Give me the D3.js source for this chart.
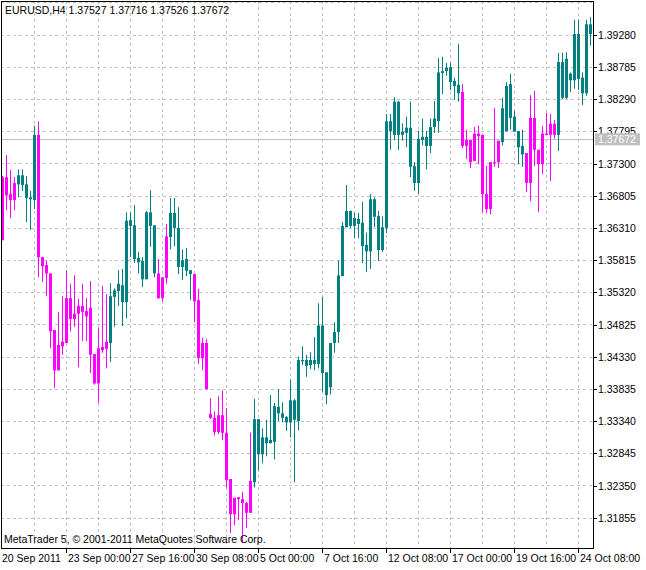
<!DOCTYPE html>
<html>
<head>
<meta charset="utf-8">
<script src="https://cdn.jsdelivr.net/npm/d3@7"></script>
<style>
  body { margin: 0; background: #fff; }
  text { font-family: "Liberation Sans", "DejaVu Sans", sans-serif; font-size: 10.5px; }
</style>
</head>
<body>
<svg id="chart" width="646" height="570"></svg>
<script>
// H4 candles
const opens = [1.3709,1.3709,1.3683,1.3700,1.3698,1.3697,1.3677,1.3675,1.3674,1.3774,
  1.3586,1.3574,1.3561,1.3474,1.3451,1.3456,1.3523,1.3523,1.3499,1.3511,
  1.3511,1.3503,1.3508,1.3437,1.3446,1.3448,1.3456,1.3454,1.3525,1.3534,
  1.3517,1.3517,1.3634,1.3583,1.3578,1.3552,1.3552,1.3634,1.3561,1.3561,
  1.3555,1.3618,1.3617,1.3631,1.3571,1.3571,1.3565,1.3560,1.3560,1.3520,
  1.3454,1.3454,1.3345,1.3339,1.3343,1.3343,1.3316,1.3245,1.3216,1.3217,
  1.3214,1.3208,1.3242,1.3240,1.3283,1.3283,1.3300,1.3300,1.3302,1.3346,
  1.3339,1.3332,1.3332,1.3336,1.3334,1.3426,1.3419,1.3420,1.3422,1.3422,
  1.3408,1.3374,1.3386,1.3454,1.3471,1.3557,1.3632,1.3634,1.3634,1.3637,
  1.3603,1.3595,1.3595,1.3648,1.3597,1.3597,1.3631,1.3780,1.3774,1.3774,
  1.3774,1.3777,1.3725,1.3700,1.3700,1.3766,1.3757,1.3757,1.3786,1.3795,
  1.3869,1.3872,1.3855,1.3849,1.3838,1.3840,1.3766,1.3766,1.3776,1.3776,
  1.3774,1.3683,1.3732,1.3732,1.3765,1.3763,1.3780,1.3800,1.3779,1.3755,
  1.3744,1.3746,1.3800,1.3800,1.3751,1.3776,1.3776,1.3791,1.3791,1.3774,
  1.3831,1.3831,1.3858,1.3858,1.3860,1.3838,1.3838,1.3929];
const highs = [1.3711,1.3743,1.3720,1.3709,1.3721,1.3721,1.3711,1.3688,1.3788,1.3795,
  1.3586,1.3581,1.3561,1.3474,1.3502,1.3526,1.3566,1.3545,1.3558,1.3522,
  1.3545,1.3523,1.3549,1.3437,1.3477,1.3542,1.3529,1.3546,1.3538,1.3566,
  1.3568,1.3655,1.3655,1.3666,1.3594,1.3586,1.3657,1.3689,1.3635,1.3583,
  1.3555,1.3637,1.3677,1.3677,1.3663,1.3598,1.3600,1.3566,1.3560,1.3537,
  1.3462,1.3460,1.3369,1.3349,1.3372,1.3381,1.3354,1.3245,1.3216,1.3217,
  1.3225,1.3210,1.3316,1.3368,1.3337,1.3323,1.3336,1.3374,1.3362,1.3383,
  1.3363,1.3342,1.3398,1.3368,1.3433,1.3449,1.3436,1.3440,1.3463,1.3515,
  1.3525,1.3409,1.3454,1.3486,1.3581,1.3640,1.3697,1.3658,1.3654,1.3654,
  1.3671,1.3624,1.3683,1.3678,1.3657,1.3649,1.3806,1.3806,1.3832,1.3826,
  1.3792,1.3802,1.3825,1.3732,1.3780,1.3799,1.3780,1.3799,1.3826,1.3892,
  1.3894,1.3885,1.3885,1.3862,1.3914,1.3852,1.3782,1.3766,1.3786,1.3788,
  1.3774,1.3726,1.3732,1.3815,1.3765,1.3831,1.3855,1.3868,1.3811,1.3780,
  1.3782,1.3746,1.3835,1.3842,1.3751,1.3788,1.3808,1.3806,1.3797,1.3900,
  1.3900,1.3901,1.3870,1.3951,1.3951,1.3870,1.3951,1.3955];
const lows = [1.3612,1.3658,1.3646,1.3658,1.3678,1.3688,1.3640,1.3628,1.3660,1.3555,
  1.3548,1.3526,1.3446,1.3385,1.3412,1.3436,1.3454,1.3472,1.3479,1.3417,
  1.3457,1.3457,1.3408,1.3390,1.3362,1.3439,1.3415,1.3425,1.3479,1.3511,
  1.3480,1.3492,1.3586,1.3577,1.3561,1.3540,1.3552,1.3602,1.3555,1.3522,
  1.3518,1.3545,1.3598,1.3603,1.3560,1.3551,1.3557,1.3520,1.3486,1.3422,
  1.3412,1.3383,1.3337,1.3312,1.3314,1.3305,1.3232,1.3162,1.3174,1.3182,
  1.3147,1.3170,1.3193,1.3232,1.3258,1.3269,1.3280,1.3300,1.3275,1.3334,
  1.3332,1.3319,1.3309,1.3240,1.3320,1.3420,1.3402,1.3414,1.3412,1.3415,
  1.3379,1.3360,1.3375,1.3439,1.3454,1.3557,1.3632,1.3631,1.3615,1.3615,
  1.3577,1.3563,1.3568,1.3632,1.3580,1.3594,1.3623,1.3751,1.3766,1.3751,
  1.3765,1.3755,1.3709,1.3688,1.3683,1.3758,1.3721,1.3746,1.3777,1.3777,
  1.3837,1.3865,1.3843,1.3828,1.3825,1.3754,1.3737,1.3723,1.3734,1.3729,
  1.3655,1.3654,1.3652,1.3725,1.3723,1.3758,1.3779,1.3782,1.3779,1.3729,
  1.3725,1.3686,1.3672,1.3726,1.3655,1.3714,1.3774,1.3703,1.3768,1.3749,
  1.3829,1.3829,1.3840,1.3845,1.3843,1.3820,1.3834,1.3911];
const closes = [1.3612,1.3681,1.3674,1.3674,1.3712,1.3712,1.3698,1.3678,1.3774,1.3586,
  1.3572,1.3561,1.3472,1.3412,1.3412,1.3449,1.3454,1.3491,1.3491,1.3499,
  1.3502,1.3495,1.3436,1.3392,1.3392,1.3443,1.3445,1.3526,1.3535,1.3545,
  1.3543,1.3642,1.3643,1.3635,1.3585,1.3580,1.3655,1.3655,1.3635,1.3523,
  1.3523,1.3554,1.3654,1.3654,1.3631,1.3581,1.3583,1.3566,1.3518,1.3431,
  1.3431,1.3383,1.3339,1.3317,1.3317,1.3316,1.3243,1.3191,1.3191,1.3214,
  1.3208,1.3193,1.3193,1.3337,1.3337,1.3309,1.3309,1.3305,1.3357,1.3356,
  1.3346,1.3340,1.3366,1.3366,1.3428,1.3428,1.3428,1.3428,1.3428,1.3481,
  1.3481,1.3409,1.3454,1.3471,1.3558,1.3634,1.3657,1.3657,1.3646,1.3645,
  1.3639,1.3605,1.3675,1.3675,1.3649,1.3632,1.3795,1.3795,1.3825,1.3825,
  1.3779,1.3785,1.3785,1.3726,1.3768,1.3771,1.3771,1.3786,1.3799,1.3870,
  1.3872,1.3877,1.3878,1.3857,1.3851,1.3757,1.3757,1.3732,1.3734,1.3772,
  1.3683,1.3660,1.3660,1.3731,1.3732,1.3815,1.3849,1.3852,1.3802,1.3780,
  1.3757,1.3700,1.3700,1.3751,1.3729,1.3729,1.3774,1.3774,1.3774,1.3886,
  1.3886,1.3891,1.3868,1.3929,1.3929,1.3862,1.3944,1.3944];

const priceTicks = [1.31855,1.32350,1.32845,1.33340,1.33835,1.34330,1.34825,1.35320,
  1.35815,1.36310,1.36805,1.37300,1.37795,1.38290,1.38785,1.39280];
const dateLabels = ["20 Sep 2011","23 Sep 00:00","27 Sep 16:00","30 Sep 08:00","5 Oct 00:00",
  "7 Oct 16:00","12 Oct 08:00","17 Oct 00:00","19 Oct 16:00","24 Oct 08:00"];
const bidPrice = 1.37672;
const title = "EURUSD,H4  1.37527 1.37716 1.37526 1.37672";

(function() {
  const candles = opens.map((o, i) => ({i, o, h: highs[i], l: lows[i], c: closes[i]}));

  const svg = d3.select("#chart");
  const pLeft = 1, pRight = 593, pTop = 1, pBottom = 548;

  const x = d3.scaleLinear().domain([0, 147]).range([2.7, 590.7]);
  const y = d3.scaleLinear().domain([1.31855, 1.39280]).range([517.7, 34.7]);
  const step = 0.00495;

  // grid
  const grid = svg.append("g").attr("stroke", "#c0c0c0").attr("stroke-dasharray", "3,3");
  const gridPrices = d3.range(-1, 17).map(k => 1.31855 + k * step)
    .filter(p => y(p) > pTop + 1 && y(p) < pBottom - 1);
  grid.selectAll("line.h").data(gridPrices).enter().append("line")
    .attr("x1", pLeft).attr("x2", pRight)
    .attr("y1", d => Math.round(y(d)) + 0.5).attr("y2", d => Math.round(y(d)) + 0.5);
  grid.selectAll("line.v").data(d3.range(8, 148, 8)).enter().append("line")
    .attr("y1", pTop).attr("y2", pBottom)
    .attr("x1", d => Math.round(x(d)) - 0.5).attr("x2", d => Math.round(x(d)) - 0.5);

  // bid line
  svg.append("line").attr("x1", pLeft).attr("x2", pRight)
    .attr("y1", Math.round(y(bidPrice)) + 0.5).attr("y2", Math.round(y(bidPrice)) + 0.5)
    .attr("stroke", "#c0c0c0");

  // candles
  const up = "#008080", down = "#ff00ff";
  const cg = svg.append("g").selectAll("g").data(candles).enter().append("g")
    .attr("fill", d => d.c >= d.o ? up : down)
    .attr("stroke", d => d.c >= d.o ? up : down);
  cg.append("line")
    .attr("x1", d => Math.round(x(d.i)) - 0.5).attr("x2", d => Math.round(x(d.i)) - 0.5)
    .attr("y1", d => y(d.h)).attr("y2", d => y(d.l));
  cg.append("rect")
    .attr("stroke", "none")
    .attr("x", d => Math.round(x(d.i)) - 2).attr("width", 3)
    .attr("y", d => y(Math.max(d.o, d.c)))
    .attr("height", d => Math.max(1, Math.abs(y(d.o) - y(d.c))));

  // frame
  svg.append("rect").attr("x", pLeft + 0.5).attr("y", pTop + 0.5)
    .attr("width", pRight - pLeft).attr("height", pBottom - pTop)
    .attr("fill", "none").attr("stroke", "#000");

  // right price axis
  const ra = svg.append("g");
  ra.selectAll("line").data(priceTicks).enter().append("line")
    .attr("x1", pRight).attr("x2", pRight + 4).attr("stroke", "#000")
    .attr("y1", d => Math.round(y(d)) + 0.5).attr("y2", d => Math.round(y(d)) + 0.5);
  ra.selectAll("text").data(priceTicks).enter().append("text")
    .attr("x", pRight + 5).attr("y", d => y(d) + 4)
    .text(d => d.toFixed(5));

  // bid label
  svg.append("rect").attr("x", pRight + 2).attr("y", y(bidPrice) - 6)
    .attr("width", 45).attr("height", 12).attr("fill", "#c0c0c0");
  svg.append("text").attr("x", pRight + 5).attr("y", y(bidPrice) + 4)
    .attr("fill", "#fff").text(bidPrice.toFixed(5));

  // bottom time axis
  const ba = svg.append("g");
  const tickBars = dateLabels.map((t, k) => ({t, i: k * 16}));
  ba.selectAll("line").data(tickBars.slice(1)).enter().append("line")
    .attr("x1", d => Math.round(x(d.i)) - 0.5).attr("x2", d => Math.round(x(d.i)) - 0.5)
    .attr("y1", pBottom).attr("y2", pBottom + 5).attr("stroke", "#000");
  ba.selectAll("text").data(tickBars).enter().append("text")
    .attr("x", d => d.i === 0 ? 2 : Math.round(x(d.i)) + 1)
    .attr("y", 562)
    .text(d => d.t);

  // captions
  svg.append("text").attr("x", 5).attr("y", 14).text(title);
  svg.append("text").attr("x", 4).attr("y", 543)
    .text("MetaTrader 5, \u00a9 2001-2011 MetaQuotes Software Corp.");
})();
</script>
</body>
</html>
